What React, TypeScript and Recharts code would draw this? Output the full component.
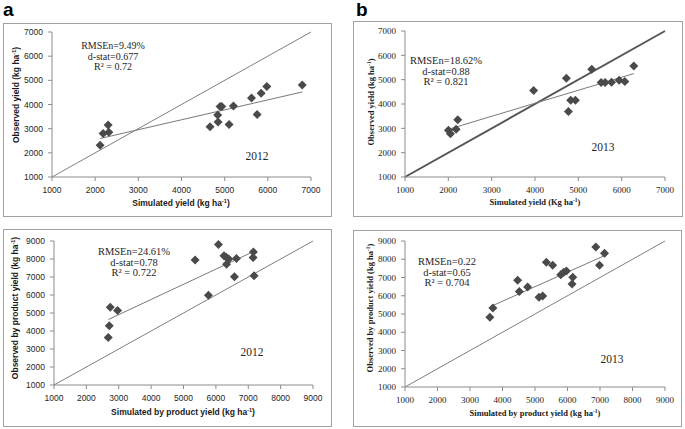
import React from 'react';
import { ScatterChart, Scatter, XAxis, YAxis, ReferenceLine } from 'recharts';

// a: grain yield 2012 (simulated vs observed, kg/ha)
const simYield2012 = [2115, 2185, 2300, 2316, 4661, 4839, 4847, 4893, 4932, 5102, 5203, 5621, 5752, 5845, 5977, 6797];
const obsYield2012 = [2315, 2800, 3147, 2856, 3078, 3562, 3271, 3922, 3922, 3175, 3936, 4269, 3590, 4463, 4740, 4809];
const trendYield2012 = [[2115, 2593], [6797, 4518]];

// b: grain yield 2013
const simYield2013 = [2002, 2049, 2180, 2218, 3968, 4724, 4771, 4824, 4932, 5310, 5526, 5618, 5765, 5942, 6073, 6281];
const obsYield2013 = [2926, 2776, 2967, 3350, 4552, 5057, 3691, 4156, 4156, 5426, 4880, 4880, 4893, 4975, 4920, 5563];
const trendYield2013 = [[2000, 2960], [6280, 5250]];

// c: by product yield 2012
const simByProd2012 = [2676, 2707, 2738, 2964, 5360, 5771, 6080, 6250, 6320, 6330, 6400, 6573, 6635, 7159, 7149, 7180];
const obsByProd2012 = [3643, 4290, 5325, 5140, 7950, 5991, 8800, 8180, 8100, 7710, 8000, 7007, 8024, 8394, 8080, 7063];
const trendByProd2012 = [[2680, 4640], [7180, 8430]];

// d: by product yield 2013
const simByProd2013 = [3612, 3704, 4465, 4517, 4774, 5123, 5237, 5350, 5545, 5792, 5884, 5967, 6141, 6162, 6872, 6985, 7139];
const obsByProd2013 = [4825, 5335, 6847, 6228, 6483, 5918, 5991, 7831, 7667, 7157, 7284, 7357, 6647, 7011, 8668, 7667, 8322];
const trendByProd2013 = [[3610, 5390], [7140, 8200]];

const yieldTicks = [1000, 2000, 3000, 4000, 5000, 6000, 7000];
const byProdTicks = [1000, 2000, 3000, 4000, 5000, 6000, 7000, 8000, 9000];

const statsA = ['RMSEn=9.49%', 'd-stat=0.677', 'R\u00b2 = 0.72'];
const statsB = ['RMSEn=18.62%', 'd-stat=0.88', 'R\u00b2 = 0.821'];
const statsC = ['RMSEn=24.61%', 'd-stat=0.78', 'R\u00b2 = 0.722'];
const statsD = ['RMSEn=0.22', 'd-stat=0.65', 'R\u00b2 = 0.704'];

const SANS = '"Liberation Sans", Arial, sans-serif';
const SERIF = '"Liberation Serif", "Times New Roman", serif';

const Diamond = (p: any) => {
  const { cx, cy } = p;
  const r = 4.5;
  return <polygon points={`${cx},${cy - r} ${cx + r},${cy} ${cx},${cy + r} ${cx - r},${cy}`} fill="#4a4a4a" />;
};

const AxisTitle = ({ x, y, text, font, rotate }: any) => (
  <text
    x={x}
    y={y}
    textAnchor="middle"
    fontFamily={font}
    fontSize={8.5}
    fontWeight="bold"
    fill="#1a1a1a"
    transform={rotate ? `rotate(-90 ${x} ${y})` : undefined}
  >
    {text}
    <tspan dy={-3} fontSize={5.5}>-1</tspan>
    <tspan dy={3}>)</tspan>
  </text>
);

function Panel(props: any) {
  const {
    left, top, width, height, margin, plotH, yAxisWidth, sim, obs, trend, ticks, max, font,
    xTitle, yTitle, xTitlePos, yTitlePos, stats, statsPos, statsSize, year, yearPos, idWidth, idColor,
  } = props;
  const data = sim.map((x: number, i: number) => ({ x, y: obs[i] }));
  const tick = { fontSize: font === SERIF ? 9 : 8.5, fontFamily: font, fill: '#262626' };
  return (
    <div style={{ position: 'absolute', left, top, width, height }}>
      <div style={{ position: 'absolute', inset: 0, border: '1px solid #a3a3a3', boxSizing: 'border-box' }} />
      <ScatterChart width={width} height={height} margin={margin}>
        <XAxis
          type="number"
          dataKey="x"
          domain={[1000, max]}
          ticks={ticks}
          height={height - margin.top - plotH}
          tick={tick}
          tickSize={4}
          tickMargin={6}
          axisLine={{ stroke: '#8c8c8c' }}
          tickLine={{ stroke: '#8c8c8c' }}
        />
        <YAxis
          type="number"
          dataKey="y"
          domain={[1000, max]}
          ticks={ticks}
          width={yAxisWidth}
          tick={tick}
          tickSize={4}
          tickMargin={5}
          axisLine={{ stroke: '#8c8c8c' }}
          tickLine={{ stroke: '#8c8c8c' }}
        />
        <ReferenceLine
          segment={[{ x: 1000, y: 1000 }, { x: max, y: max }]}
          stroke={idColor}
          strokeWidth={idWidth}
        />
        <ReferenceLine
          segment={[{ x: trend[0][0], y: trend[0][1] }, { x: trend[1][0], y: trend[1][1] }]}
          stroke="#7a7a7a"
          strokeWidth={1}
        />
        <Scatter data={data} shape={Diamond} isAnimationActive={false} />
        <AxisTitle x={xTitlePos[0]} y={xTitlePos[1]} text={xTitle} font={font} />
        <AxisTitle x={yTitlePos[0]} y={yTitlePos[1]} text={yTitle} font={font} rotate />
        {stats.map((s: string, i: number) => (
          <text
            key={s}
            x={statsPos[0]}
            y={statsPos[1] + i * 10.5}
            textAnchor="middle"
            fontFamily={SERIF}
            fontSize={statsSize}
            fill="#262626"
          >
            {s}
          </text>
        ))}
        <text x={yearPos[0]} y={yearPos[1]} textAnchor="middle" fontFamily={SERIF} fontSize={11.5} fill="#262626">
          {year}
        </text>
      </ScatterChart>
    </div>
  );
}

export default function App() {
  return (
    <div style={{ position: 'absolute', left: 0, top: 0, width: 685, height: 429, background: '#fff', overflow: 'hidden' }}>
      <div style={{ position: 'absolute', left: 3, top: 0, fontFamily: SANS, fontWeight: 'bold', fontSize: 19, lineHeight: '19px' }}>a</div>
      <div style={{ position: 'absolute', left: 356, top: 0, fontFamily: SANS, fontWeight: 'bold', fontSize: 19, lineHeight: '19px' }}>b</div>

      <Panel
        left={3} top={23} width={329} height={194}
        margin={{ top: 9, right: 21, left: 0, bottom: 0 }} plotH={145} yAxisWidth={49}
        sim={simYield2012} obs={obsYield2012} trend={trendYield2012}
        ticks={yieldTicks} max={7000} font={SANS}
        xTitle="Simulated yield (kg ha" yTitle="Observed yield (kg ha"
        xTitlePos={[178, 183]} yTitlePos={[16, 72]}
        stats={statsA} statsPos={[110, 26]} statsSize={10} year="2012" yearPos={[254, 137]}
        idWidth={1} idColor="#7f7f7f"
      />
      <Panel
        left={353} top={21} width={330} height={196}
        margin={{ top: 10, right: 18, left: 0, bottom: 0 }} plotH={146} yAxisWidth={52}
        sim={simYield2013} obs={obsYield2013} trend={trendYield2013}
        ticks={yieldTicks} max={7000} font={SERIF}
        xTitle="Simulated yield  (Kg ha" yTitle="Observed yield (kg ha"
        xTitlePos={[182, 184]} yTitlePos={[21, 81]}
        stats={statsB} statsPos={[93, 43]} statsSize={10.5} year="2013" yearPos={[250, 130]}
        idWidth={2} idColor="#555555"
      />
      <Panel
        left={3} top={229} width={329} height={198}
        margin={{ top: 12, right: 19, left: 0, bottom: 0 }} plotH={144} yAxisWidth={51}
        sim={simByProd2012} obs={obsByProd2012} trend={trendByProd2012}
        ticks={byProdTicks} max={9000} font={SANS}
        xTitle="Simulated by product yield (kg ha" yTitle="Observed by product yield (kg ha"
        xTitlePos={[180, 186]} yTitlePos={[15, 79]}
        stats={statsC} statsPos={[131, 26]} statsSize={10.5} year="2012" yearPos={[249, 127]}
        idWidth={1} idColor="#7f7f7f"
      />
      <Panel
        left={353} top={230} width={329} height={197}
        margin={{ top: 11, right: 17, left: 0, bottom: 0 }} plotH={146} yAxisWidth={52}
        sim={simByProd2013} obs={obsByProd2013} trend={trendByProd2013}
        ticks={byProdTicks} max={9000} font={SERIF}
        xTitle="Simulated by product yield (kg ha" yTitle="Observed by product yield (kg ha"
        xTitlePos={[182, 186]} yTitlePos={[20, 78]}
        stats={statsD} statsPos={[94, 35]} statsSize={10.5} year="2013" yearPos={[259, 133]}
        idWidth={1} idColor="#7f7f7f"
      />
    </div>
  );
}
